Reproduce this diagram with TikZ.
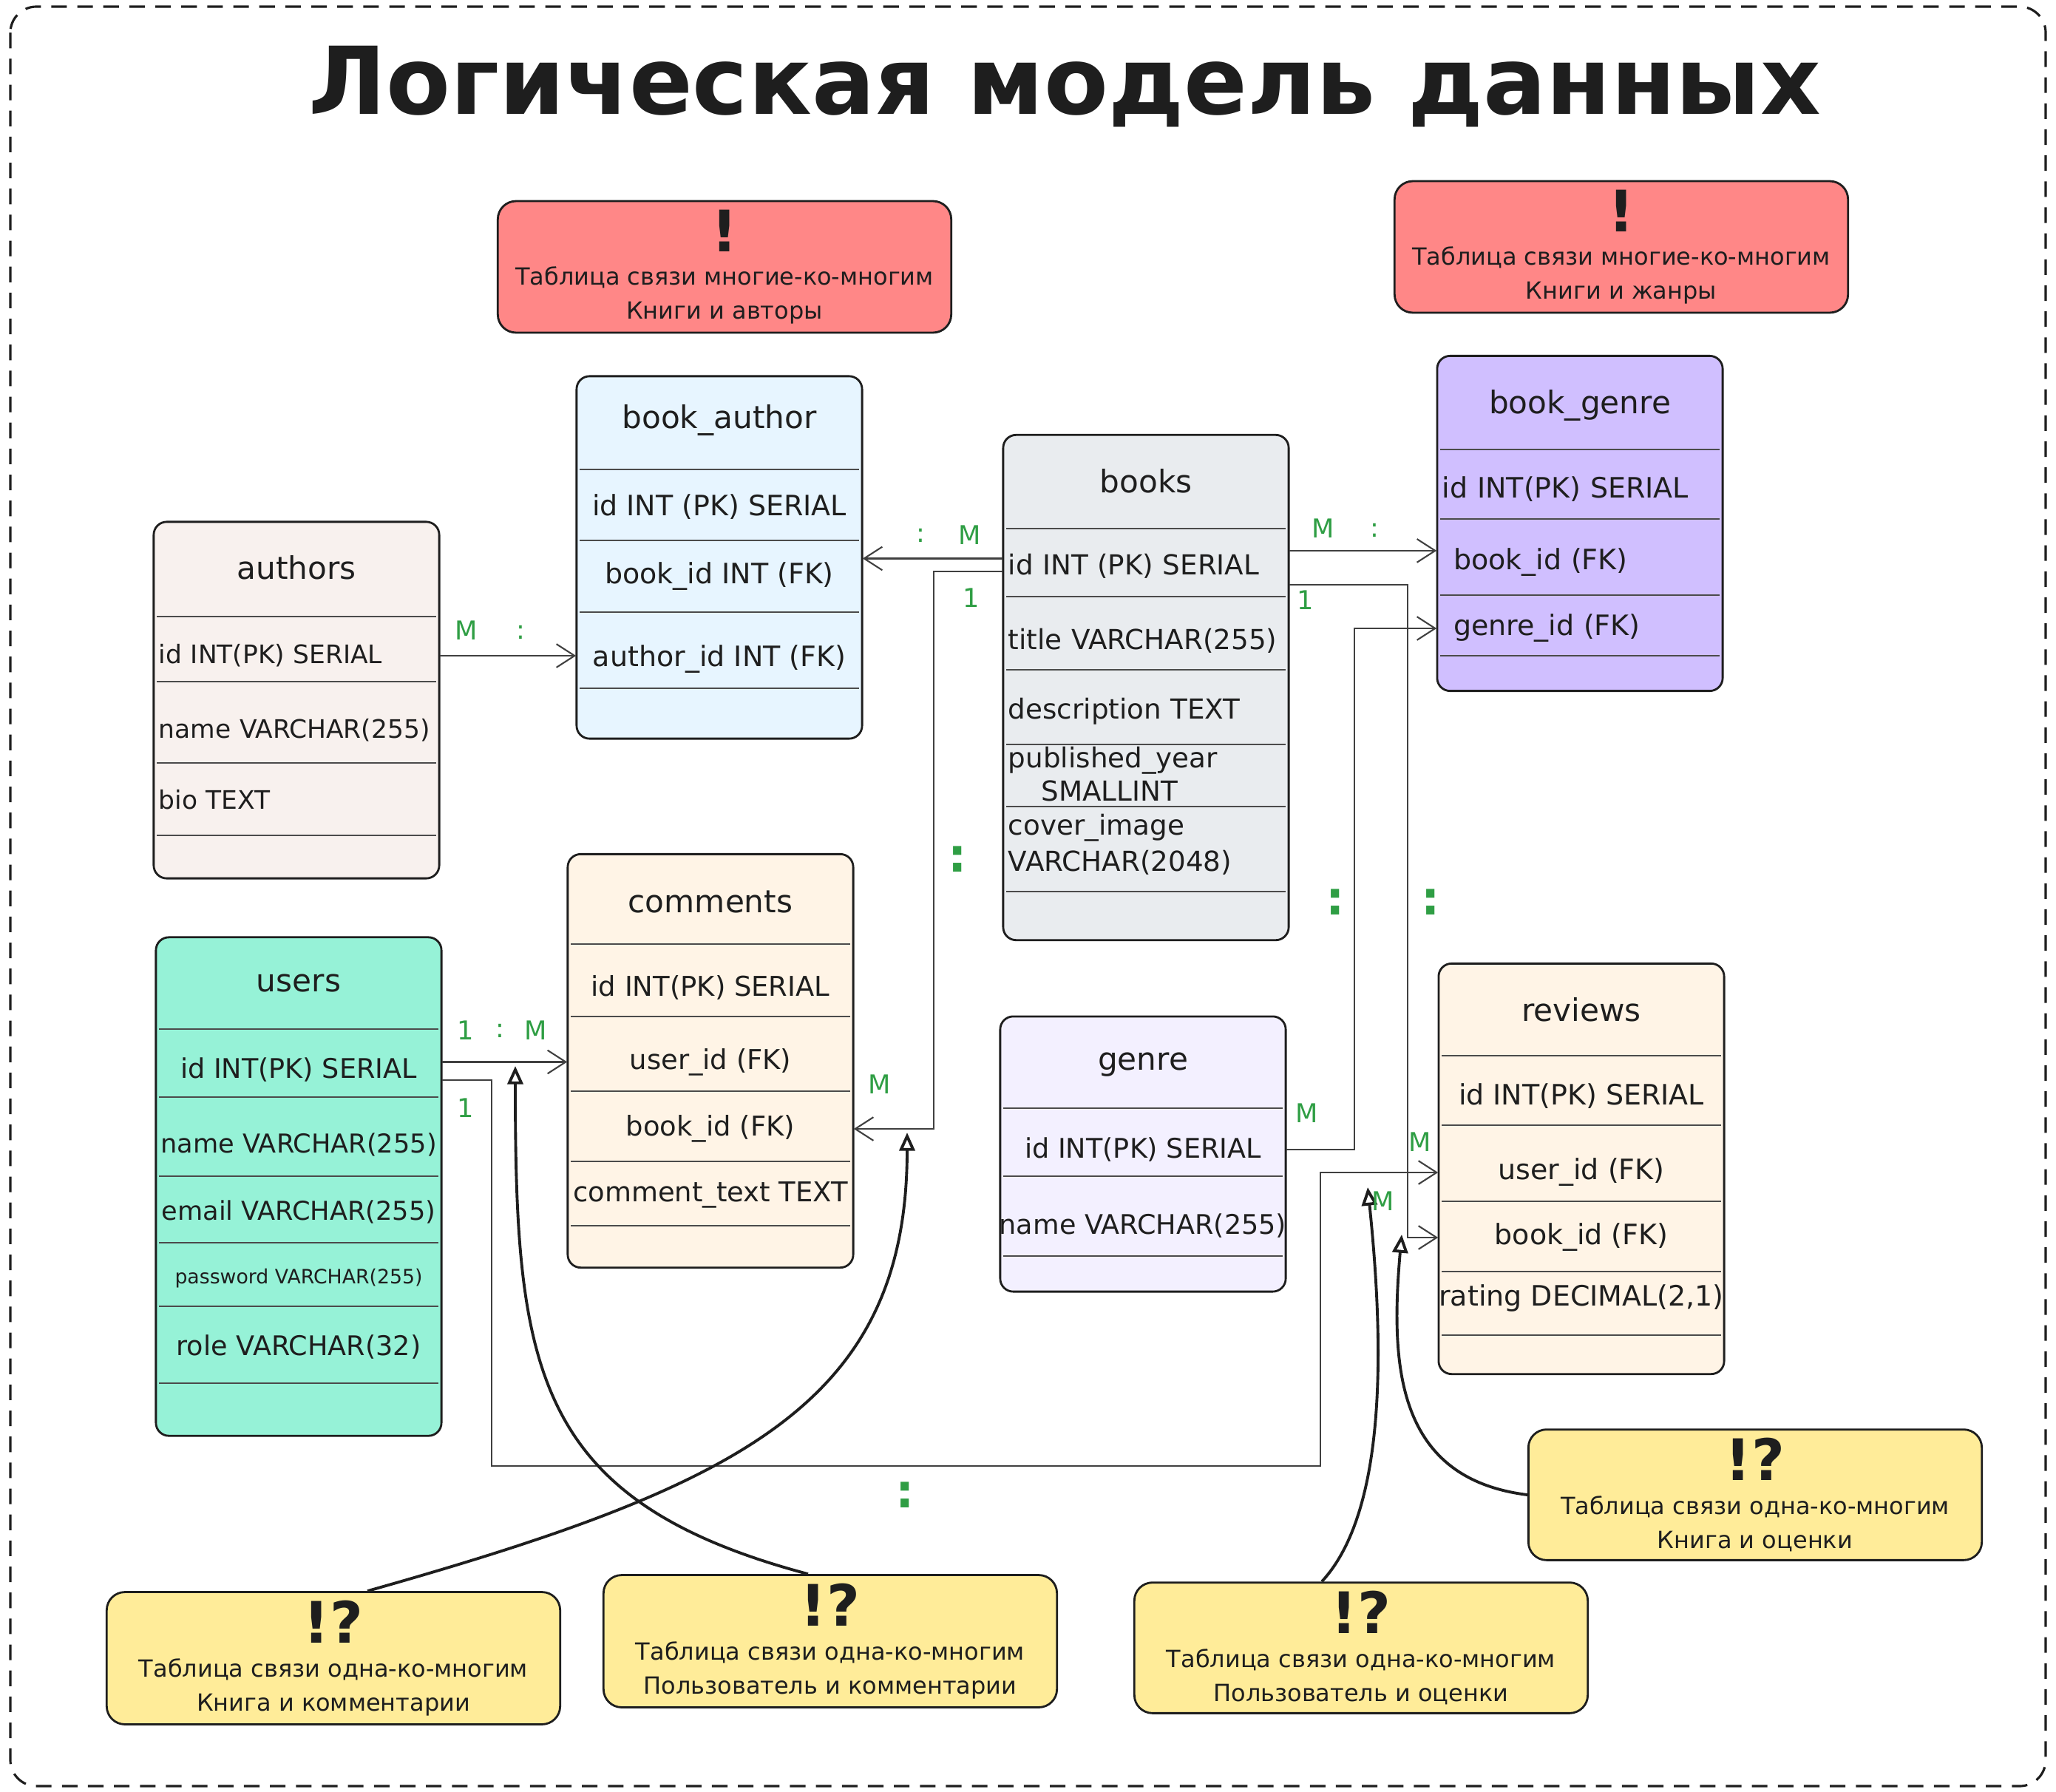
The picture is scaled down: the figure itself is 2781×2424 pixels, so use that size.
\documentclass[tikz,border=0pt]{standalone}
\usepackage{fontspec}
\setmainfont{DejaVu Sans}
\usetikzlibrary{arrows.meta}
\definecolor{Ink}{HTML}{1E1E1E}
\definecolor{Leaf}{HTML}{2F9E44}
\definecolor{Salmon}{HTML}{FF8787}
\definecolor{Butter}{HTML}{FFEC99}
\definecolor{Blush}{HTML}{F8F1EE}
\definecolor{Sky}{HTML}{E7F5FF}
\definecolor{Ash}{HTML}{E9ECEF}
\definecolor{Lilac}{HTML}{D0BFFF}
\definecolor{Cream}{HTML}{FFF4E6}
\definecolor{Mint}{HTML}{96F2D7}
\definecolor{Haze}{HTML}{F3F0FF}
\tikzset{
  tbl/.style={draw=Ink, line width=0.8pt, rounded corners=5pt, minimum width=3.86cm, inner sep=0pt},
  hdr/.style={text=Ink, font=\fontsize{12}{14}\selectfont},
  fld/.style={text=Ink, font=\fontsize{10.4}{12}\selectfont, minimum width=3.86cm, inner xsep=0pt, inner ysep=1pt},
  fldl/.style={text=Ink, font=\fontsize{9.8}{12}\selectfont, text width=3.72cm, align=left, inner xsep=0.07cm, inner ysep=1pt},
  sep/.style={draw=Ink!80, line width=0.6pt},
  note/.style={draw=Ink, line width=0.8pt, rounded corners=7pt, minimum width=6.13cm, minimum height=1.72cm, align=center, text=Ink, font=\fontsize{9.1}{13}\selectfont},
  card/.style={text=Leaf, font=\fontsize{10}{12}\selectfont},
  bigdots/.style={text=Leaf, font=\fontsize{18}{18}\selectfont\bfseries},
  rel/.style={draw=Ink!85, line width=0.6pt, -{Straight Barb[length=7pt,width=9pt]}},
  hint/.style={draw=Ink, line width=1.1pt, -{Triangle[open,length=7pt,width=6pt]}},
}
\newcommand{\shout}[1]{{\fontsize{22}{22}\selectfont\bfseries #1}}

\begin{document}
\begin{tikzpicture}[x=0.01cm, y=-0.01cm]
\useasboundingbox (0,0) rectangle (2781,2424);
\draw[Ink, line width=0.9pt, dash pattern=on 6pt off 4pt, rounded corners=10pt] (14,9) rectangle (2767,2416);
\node[text=Ink, font=\fontsize{36}{40}\selectfont\bfseries] (title) at (1440,117) {Логическая модель данных};

\node[note, fill=Salmon] (nAuth) at (980,361) {\shout{!}\\Таблица связи многие-ко-многим\\Книги и авторы};
\node[note, fill=Salmon] (nGenre) at (2193,334) {\shout{!}\\Таблица связи многие-ко-многим\\Книги и жанры};
\node[note, fill=Butter] (nBC) at (451,2243) {\shout{!?}\\Таблица связи одна-ко-многим\\Книга и комментарии};
\node[note, fill=Butter] (nUC) at (1123,2220) {\shout{!?}\\Таблица связи одна-ко-многим\\Пользователь и комментарии};
\node[note, fill=Butter] (nUR) at (1841,2229) {\shout{!?}\\Таблица связи одна-ко-многим\\Пользователь и оценки};
\node[note, fill=Butter] (nBR) at (2374,2022) {\shout{!?}\\Таблица связи одна-ко-многим\\Книга и оценки};

\node[tbl, fill=Blush, minimum height=4.82cm] (authors) at (401,947) {};
\node[hdr] (authors-h) at (401,768) {authors};
\node[fldl] (au-id) at (401,887) {id INT(PK) SERIAL};
\node[fldl] (au-name) at (401,988) {name VARCHAR(255)};
\node[fldl] (au-bio) at (401,1082) {bio TEXT};
\foreach \y in {834,922,1032,1130} \draw[sep] (212,\y) -- (590,\y);

\node[tbl, fill=Sky, minimum height=4.90cm] (bookauthor) at (973,754) {};
\node[hdr] (bookauthor-h) at (973,568) {book\_author};
\node[fld, font=\fontsize{10.8}{12}\selectfont] (ba-id) at (973,686) {id INT (PK) SERIAL};
\node[fld, font=\fontsize{10.8}{12}\selectfont] (ba-book) at (973,780) {book\_id INT (FK)};
\node[fld, font=\fontsize{10.8}{12}\selectfont] (ba-author) at (973,892) {author\_id INT (FK)};
\foreach \y in {635,731,828,931} \draw[sep] (784,\y) -- (1162,\y);

\node[tbl, fill=Ash, minimum height=6.83cm] (books) at (1550,930) {};
\node[hdr] (books-h) at (1550,651) {books};
\node[fldl, font=\fontsize{10.6}{13}\selectfont] (bk-id) at (1550,766) {id INT (PK) SERIAL};
\node[fldl, font=\fontsize{10.6}{13}\selectfont] (bk-title) at (1550,867) {title VARCHAR(255)};
\node[fldl, font=\fontsize{10.6}{13}\selectfont] (bk-desc) at (1550,962) {description TEXT};
\node[fldl, font=\fontsize{10.6}{13}\selectfont] (bk-year) at (1550,1047) {published\_year\\\hspace*{1.2em}SMALLINT};
\node[fldl, font=\fontsize{10.6}{14}\selectfont] (bk-cover) at (1550,1142) {cover\_image\\VARCHAR(2048)};
\foreach \y in {715,807,906,1007,1091,1206} \draw[sep] (1361,\y) -- (1739,\y);

\node[tbl, fill=Lilac, minimum height=4.53cm] (bookgenre) at (2137,708) {};
\node[hdr] (bookgenre-h) at (2137,548) {book\_genre};
\node[fldl, font=\fontsize{10.8}{12}\selectfont] (bg-id) at (2137,662) {id INT(PK) SERIAL};
\node[fldl, font=\fontsize{10.8}{12}\selectfont] (bg-book) at (2137,761) {\hspace*{0.4em}book\_id (FK)};
\node[fldl, font=\fontsize{10.8}{12}\selectfont] (bg-genre) at (2137,850) {\hspace*{0.4em}genre\_id (FK)};
\foreach \y in {608,702,805,887} \draw[sep] (1948,\y) -- (2326,\y);

\node[tbl, fill=Cream, minimum height=5.59cm] (comments) at (961,1435) {};
\node[hdr] (comments-h) at (961,1220) {comments};
\node[fld, font=\fontsize{10.5}{12}\selectfont] (cm-id) at (961,1336) {id INT(PK) SERIAL};
\node[fld, font=\fontsize{10.5}{12}\selectfont] (cm-user) at (961,1437) {user\_id (FK)};
\node[fld, font=\fontsize{10.5}{12}\selectfont] (cm-book) at (961,1527) {book\_id (FK)};
\node[fld, font=\fontsize{10.5}{12}\selectfont] (cm-text) at (961,1616) {comment\_text TEXT};
\foreach \y in {1277,1375,1476,1571,1658} \draw[sep] (772,\y) -- (1150,\y);

\node[tbl, fill=Mint, minimum height=6.74cm] (users) at (404,1605) {};
\node[hdr] (users-h) at (404,1330) {users};
\node[fld] (us-id) at (404,1447) {id INT(PK) SERIAL};
\node[fld, font=\fontsize{10}{12}\selectfont] (us-name) at (404,1548) {name VARCHAR(255)};
\node[fld, font=\fontsize{10}{12}\selectfont] (us-mail) at (404,1639) {email VARCHAR(255)};
\node[fld, font=\fontsize{7.6}{9}\selectfont] (us-pass) at (404,1729) {password VARCHAR(255)};
\node[fld] (us-role) at (404,1822) {role VARCHAR(32)};
\foreach \y in {1392,1484,1591,1681,1767,1871} \draw[sep] (215,\y) -- (593,\y);

\node[tbl, fill=Haze, minimum height=3.72cm] (genre) at (1546,1561) {};
\node[hdr] (genre-h) at (1546,1440) {genre};
\node[fld] (gn-id) at (1546,1555) {id INT(PK) SERIAL};
\node[fld] (gn-name) at (1546,1658) {name VARCHAR(255)};
\foreach \y in {1499,1591,1699} \draw[sep] (1357,\y) -- (1735,\y);

\node[tbl, fill=Cream, minimum height=5.55cm] (reviews) at (2139,1581) {};
\node[hdr] (reviews-h) at (2139,1366) {reviews};
\node[fld, font=\fontsize{10.8}{12}\selectfont] (rv-id) at (2139,1483) {id INT(PK) SERIAL};
\node[fld, font=\fontsize{10.8}{12}\selectfont] (rv-user) at (2139,1586) {user\_id (FK)};
\node[fld, font=\fontsize{10.8}{12}\selectfont] (rv-book) at (2139,1674) {book\_id (FK)};
\node[fld, font=\fontsize{10.8}{12}\selectfont] (rv-rate) at (2139,1756) {rating DECIMAL(2,1)};
\foreach \y in {1428,1522,1625,1720,1806} \draw[sep] (1950,\y) -- (2328,\y);

\draw[rel] (au-id.east) -- (au-id.east -| ba-author.west);
\draw[rel] ([yshift=3pt]bk-id.west) -- ([yshift=3pt]bk-id.west -| ba-book.east);
\draw[rel] ([yshift=-2pt]bk-id.west) -- ++(-93,0) |- (cm-book.east);
\draw[rel] ([yshift=6pt]bk-id.east) -- ([yshift=6pt]bk-id.east -| bg-book.west);
\draw[rel] ([yshift=-7pt]bk-id.east) -- ++(160,0) |- (rv-book.west);
\draw[rel] (gn-id.east) -- ++(92,0) |- (bg-genre.west);
\draw[rel] ([yshift=3pt]us-id.east) -- ([yshift=3pt]us-id.east -| cm-user.west);
\coordinate (ur-low) at (1786,1983);
\draw[rel] ([yshift=-4pt]us-id.east) -- ++(67,0) |- (ur-low) |- (rv-user.west);

\coordinate (uc-tip) at (697,1442);
\coordinate (bc-tip) at (1227,1532);
\coordinate (ur-tip) at (1850,1606);
\coordinate (br-tip) at (1896,1670);
\draw[hint] ([xshift=-0.3cm]nUC.north) .. controls (720,2030) and (697,1850) .. (uc-tip);
\draw[hint] ([xshift=0.46cm]nBC.north) .. controls (1000,2010) and (1227,1900) .. (bc-tip);
\draw[hint] ([xshift=-0.53cm]nUR.north) .. controls (1880,2040) and (1870,1800) .. (ur-tip);
\draw[hint] (nBR.west) .. controls (1890,2000) and (1880,1850) .. (br-tip);

\foreach \t/\x/\y [count=\i] in {M/631/853, :/704/855, :/1245/724, M/1312/724, 1/1314/809,
    M/1790/715, :/1859/717, 1/1766/812, M/1190/1467, M/1768/1506, M/1921/1545, M/1871/1625,
    1/630/1394, :/676/1394, M/725/1394, 1/630/1499}
  \node[card] (card\i) at (\x,\y) {\t};
\foreach \x/\y [count=\i] in {1295/1162, 1806/1220, 1935/1220, 1224/2022}
  \node[bigdots] (dots\i) at (\x,\y) {:};
\end{tikzpicture}
\end{document}
